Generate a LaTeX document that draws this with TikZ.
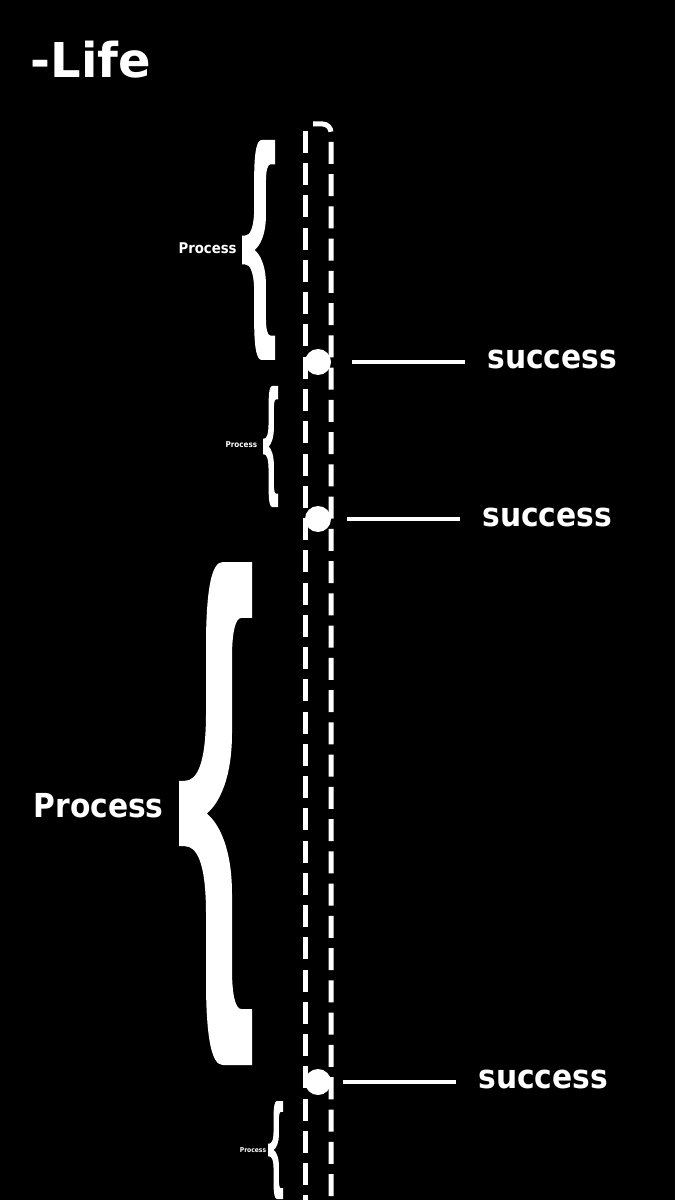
\documentclass[tikz,border=0pt]{standalone}
\usepackage{fontspec}
\setmainfont{DejaVu Sans}
\newfontfamily\narrowfont{DejaVu Sans}[FakeStretch=0.9]
\usetikzlibrary{positioning}

% brace: tip x, top y, width, height
\newcommand{\lifebrace}[4]{%
  \fill[white,shift={(#1,#2)},xscale=#3,yscale=-#4]
    (0.6,0) -- (1,0) -- (1,0.111) -- (0.86,0.111)
    .. controls (0.77,0.111) and (0.726,0.14) .. (0.726,0.19)
    -- (0.726,0.34) .. controls (0.726,0.43) and (0.55,0.48) .. (0.38,0.5)
    .. controls (0.55,0.52) and (0.726,0.57) .. (0.726,0.66)
    -- (0.726,0.81) .. controls (0.726,0.86) and (0.77,0.889) .. (0.86,0.889)
    -- (1,0.889) -- (1,1) -- (0.6,1)
    .. controls (0.45,1) and (0.38,0.95) .. (0.37,0.85)
    -- (0.37,0.7) .. controls (0.37,0.6) and (0.25,0.565) .. (0.08,0.565)
    -- (0,0.565) -- (0,0.435) -- (0.08,0.435)
    .. controls (0.25,0.435) and (0.37,0.4) .. (0.37,0.3)
    -- (0.37,0.15) .. controls (0.38,0.05) and (0.45,0) .. (0.6,0) -- cycle;}

\begin{document}
\begin{tikzpicture}[
    rail/.style={white, line width=2.85pt, dash pattern=on 0.44cm off 0.205cm},
    bar/.style={white, line width=2.3pt},
    dot/.style={circle, fill=white, minimum size=0.52cm, inner sep=0pt},
    word/.style={text=white, inner sep=0pt, font=\narrowfont\bfseries\fontsize{18.8pt}{20pt}\selectfont},
    proc/.style={text=white, inner sep=0pt, anchor=east, font=\narrowfont\bfseries\fontsize{#1}{#1}\selectfont}]
  \useasboundingbox (0,0) rectangle (13.5,-24);
  \fill[black] (0,0) rectangle (13.5,-24);

  \node[text=white, inner sep=0pt, anchor=base west,
        font=\bfseries\fontsize{27.3pt}{30pt}\selectfont] (life) at (0.61,-1.56) {-Life};

  % the two dashed rails
  \draw[rail] (6.10,-2.62) -- (6.10,-24);
  \draw[rail, rounded corners=0.17cm] (6.26,-2.48) -- (6.62,-2.48) -- (6.62,-24);

  % braces with their labels
  \lifebrace{4.84}{-2.8}{0.66}{4.4}
  \lifebrace{5.26}{-7.72}{0.30}{2.42}
  \lifebrace{3.58}{-11.24}{1.46}{10.06}
  \lifebrace{5.36}{-22.02}{0.30}{1.96}
  \node[proc=8.4pt] (p1) at (4.74,-4.96) {Process};
  \node[proc=4.55pt] (p2) at (5.15,-8.90) {Process};
  \node[proc=18.8pt] (p3) at (3.28,-16.12) {Process};
  \node[proc=3.8pt] (p4) at (5.33,-23.00) {Process};

  % milestones
  \foreach \i/\cy/\tx/\ty/\gap in {1/7.24/9.74/7.38/0.42, 2/10.38/9.64/10.52/0.32, 3/21.64/9.56/21.76/0.24} {
    \node[dot] (m\i) at (6.36,-\cy) {};
    \node[word, anchor=base west] (s\i) at (\tx,-\ty) {success};
    \draw[bar, shorten <=\gap cm, shorten >=0.44cm] (m\i.east) -- (m\i.east -| s\i.west);
  }
\end{tikzpicture}
\end{document}
